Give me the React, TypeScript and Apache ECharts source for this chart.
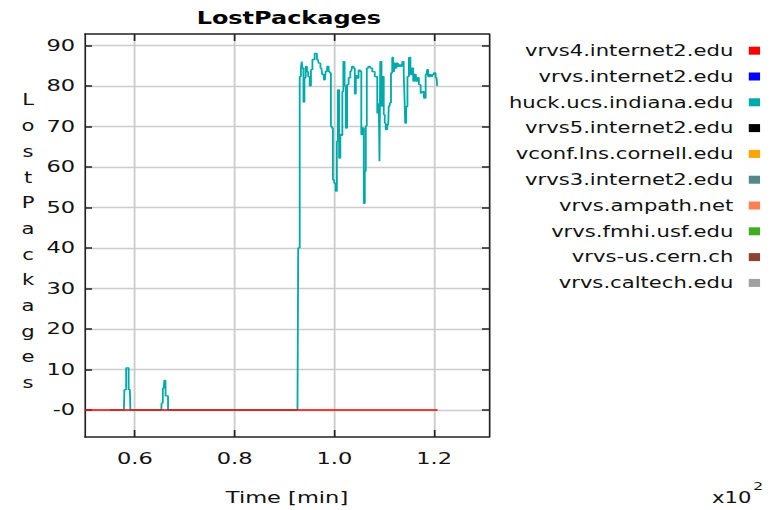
import React, { useEffect, useRef } from "react";
import * as echarts from "echarts";

// The reference picture is horizontally stretched: the chart is laid out at
// BASE_WIDTH and widened to the 775px page.
const PAGE_WIDTH = 775;
const BASE_WIDTH = 550;
const STRETCH = PAGE_WIDTH / BASE_WIDTH;
const FONT = "DejaVu Sans";

const titleText = "LostPackages";
const xAxisName = "Time [min]";
const yAxisName = "LostPackages";
const xScaleNote = "x10";
const xScaleExp = "2";

const seriesNames = [
  "vrvs4.internet2.edu",
  "vrvs.internet2.edu",
  "huck.ucs.indiana.edu",
  "vrvs5.internet2.edu",
  "vconf.lns.cornell.edu",
  "vrvs3.internet2.edu",
  "vrvs.ampath.net",
  "vrvs.fmhi.usf.edu",
  "vrvs-us.cern.ch",
  "vrvs.caltech.edu",
];
const seriesColors = [
  "#ff0000",
  "#0000ff",
  "#00aaaa",
  "#000000",
  "#ffa500",
  "#558888",
  "#ff7f50",
  "#44aa22",
  "#8b4433",
  "#a0a0a0",
];

// time [min], lost packages
const vrvs4Samples: [number, number][] = [
  [50, 0],
  [120.7, 0],
];

const huckSamples: [number, number][] = [
  [55, 0], [57.8, 0], [58.0, 5], [58.5, 10.4], [59.0, 5], [59.2, 0],
  [65.3, 0], [65.4, 1.7], [65.8, 5.4], [66.0, 7.3], [66.3, 3.5], [66.6, 3.5], [66.7, 0],
  [92.6, 0], [92.9, 40], [93.2, 82.3], [93.4, 84.4], [93.5, 86], [93.7, 84.4], [93.9, 76],
  [94.1, 82], [94.4, 84.8], [94.6, 83.5], [94.9, 82.3], [95.2, 80], [95.4, 84], [95.8, 86.5],
  [96.3, 88], [96.7, 86.5], [97.0, 85.6], [97.4, 84.4], [97.7, 82.8], [98.1, 81.5], [98.4, 83.6],
  [98.7, 84.8], [99.0, 83.5], [99.2, 83.2], [99.4, 70], [99.6, 69.6], [99.8, 56.8], [100.1, 56],
  [100.4, 54], [100.6, 66.3], [100.8, 79], [101.1, 62.2], [101.3, 68], [101.5, 67.8], [101.7, 78.6],
  [101.9, 86], [102.2, 80], [102.4, 69.6], [102.7, 80.3], [103.0, 82], [103.4, 83.6], [103.7, 84.8],
  [104.0, 84.4], [104.2, 78], [104.4, 82.5], [104.7, 81.9], [105.0, 83.9], [105.3, 83.6], [105.5, 68],
  [105.8, 69.6], [106.0, 51], [106.2, 58.9], [106.4, 70.1], [106.6, 84.4], [107.0, 84.8], [107.4, 84.4],
  [107.8, 83.5], [108.4, 82.3], [108.8, 73.3], [109.0, 75.7], [109.1, 61.4], [109.3, 86], [109.6, 75],
  [109.8, 82.3], [110.0, 72.9], [110.2, 70.8], [110.4, 69.2], [110.8, 70.4], [111.0, 75], [111.2, 75.8],
  [111.5, 83.2], [111.7, 87], [111.9, 83.6], [112.1, 85.6], [112.3, 84.4], [112.6, 85.6], [112.9, 84.8],
  [113.1, 85.2], [113.5, 84.8], [113.8, 86], [114.0, 83.2], [114.1, 77.8], [114.3, 70.8], [114.5, 74.9],
  [114.8, 82.3], [115.1, 87], [115.4, 82.8], [115.7, 84.4], [115.9, 81.2], [116.2, 82.8], [116.5, 81.2],
  [116.8, 82], [117.1, 80.3], [117.5, 78.2], [117.8, 78.6], [118.1, 77], [118.5, 82.8], [118.7, 84],
  [118.9, 82.3], [119.3, 82.8], [119.5, 82.3], [119.8, 82.8], [120.1, 83.2], [120.5, 82], [120.7, 80],
];

const seriesSamples: [number, number][][] = [
  vrvs4Samples,
  [],
  huckSamples,
  [],
  [],
  [],
  [],
  [],
  [],
  [],
];

const xMin = 50;
const xMax = 131;
const yMin = -6.67;
const yMax = 92.8;
const xTickValues = [60, 80, 100, 120];
const yTickValues = [0, 10, 20, 30, 40, 50, 60, 70, 80, 90];

const AXIS_COLOR = "#222222";
const GRID_COLOR = "#cccccc";
const TEXT_COLOR = "#111111";

function buildOption() {
  const xLabel = (v: number) => (v / 100).toFixed(1);
  const yLabel = (v: number) => (v === 0 ? "-0" : String(v));

  const xAxisBase = {
    type: "value",
    min: xMin,
    max: xMax,
    axisLine: { show: true, onZero: false, lineStyle: { color: AXIS_COLOR, width: 1.5 } },
    axisTick: {
      show: true,
      inside: true,
      length: 7,
      customValues: xTickValues,
      lineStyle: { color: AXIS_COLOR, width: 1.2 },
    },
  };
  const yAxisBase = {
    type: "value",
    min: yMin,
    max: yMax,
    axisLine: { show: true, onZero: false, lineStyle: { color: AXIS_COLOR, width: 1.2 } },
    axisTick: {
      show: true,
      inside: true,
      length: 5,
      customValues: yTickValues,
      lineStyle: { color: AXIS_COLOR, width: 1.5 },
    },
  };

  return {
    animation: false,
    backgroundColor: "#ffffff",
    title: {
      text: titleText,
      left: 200,
      top: 5,
      textAlign: "center",
      textStyle: { fontFamily: FONT, fontSize: 17, fontWeight: "bold", color: "#000000" },
    },
    legend: {
      orient: "vertical",
      right: 10.6,
      top: 42.7,
      padding: 0,
      align: "right",
      icon: "rect",
      itemWidth: 8,
      itemHeight: 8,
      itemGap: 9.8,
      selectedMode: false,
      data: seriesNames,
      textStyle: {
        fontFamily: FONT,
        fontSize: 15,
        lineHeight: 16,
        color: TEXT_COLOR,
        padding: [0, 6, 0, 0],
      },
    },
    grid: {
      left: 60.32,
      right: 202.98,
      top: 34,
      bottom: 73,
      containLabel: false,
      outerBoundsMode: "none",
    },
    xAxis: [
      {
        ...xAxisBase,
        position: "bottom",
        name: xAxisName,
        nameLocation: "middle",
        nameGap: 53,
        nameTextStyle: { fontFamily: FONT, fontSize: 16, color: TEXT_COLOR },
        axisLabel: {
          show: true,
          customValues: xTickValues,
          formatter: xLabel,
          margin: 14,
          fontFamily: FONT,
          fontSize: 16,
          color: TEXT_COLOR,
        },
        splitLine: { show: true, lineStyle: { color: GRID_COLOR, width: 1.3 } },
      },
      {
        ...xAxisBase,
        position: "top",
        axisLabel: { show: false },
        splitLine: { show: false },
      },
    ],
    yAxis: [
      {
        ...yAxisBase,
        position: "left",
        axisLabel: {
          show: true,
          customValues: yTickValues,
          formatter: yLabel,
          margin: 7,
          fontFamily: FONT,
          fontSize: 16,
          color: TEXT_COLOR,
        },
        splitLine: { show: true, lineStyle: { color: GRID_COLOR, width: 1.3 } },
      },
      {
        ...yAxisBase,
        position: "right",
        axisLabel: { show: false },
        splitLine: { show: false },
      },
    ],
    graphic: [
      {
        type: "text",
        x: 19.9,
        y: 241.5,
        style: {
          text: yAxisName.split("").join("\n"),
          fontFamily: FONT,
          fontSize: 15,
          lineHeight: 25.7,
          fill: TEXT_COLOR,
          align: "center",
          verticalAlign: "middle",
        },
      },
      {
        type: "text",
        x: 505.3,
        y: 497.5,
        style: {
          text: xScaleNote,
          fontFamily: FONT,
          fontSize: 15,
          fill: TEXT_COLOR,
          align: "left",
          verticalAlign: "middle",
        },
      },
      {
        type: "text",
        x: 534.6,
        y: 486.5,
        style: {
          text: xScaleExp,
          fontFamily: FONT,
          fontSize: 11,
          fill: TEXT_COLOR,
          align: "left",
          verticalAlign: "middle",
        },
      },
    ],
    series: seriesNames.map((name, i) => ({
      name,
      type: "line",
      xAxisIndex: 0,
      yAxisIndex: 0,
      data: seriesSamples[i],
      showSymbol: false,
      symbol: "none",
      step: i === 2 ? "middle" : false,
      z: i === 0 ? 4 : 2,
      itemStyle: { color: seriesColors[i] },
      lineStyle: { color: seriesColors[i], width: i === 0 ? 1.5 : 1.3 },
      emphasis: { disabled: true },
    })),
  };
}

export default function App() {
  const ref = useRef<HTMLDivElement>(null);
  useEffect(() => {
    if (!ref.current) return;
    const chart = echarts.init(ref.current, null, { renderer: "svg" });
    chart.setOption(buildOption() as any);
    return () => {
      chart.dispose();
    };
  }, []);
  return (
    <div
      ref={ref}
      style={{
        position: "absolute",
        left: 0,
        top: 0,
        width: BASE_WIDTH,
        height: 510,
        transform: `scaleX(${STRETCH})`,
        transformOrigin: "0 0",
      }}
    />
  );
}
